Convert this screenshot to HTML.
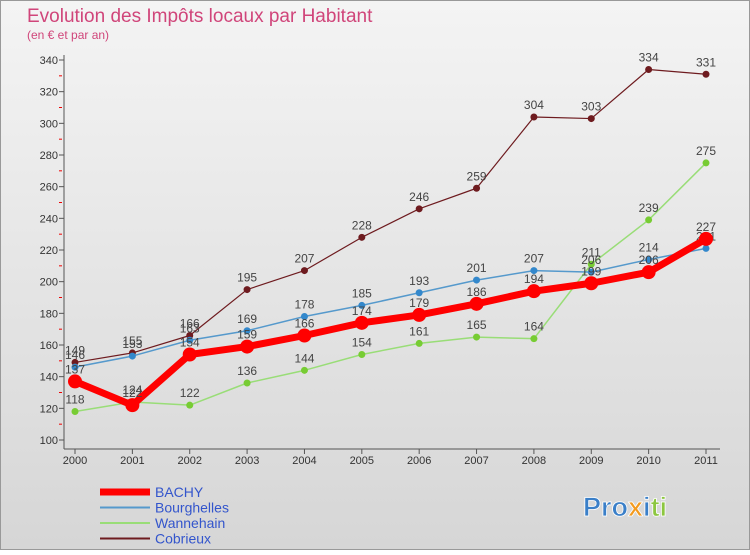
<!DOCTYPE html>
<html><head><meta charset="utf-8"><style>
body{margin:0;width:750px;height:550px;overflow:hidden;font-family:"Liberation Sans",sans-serif}
</style></head><body>
<svg width="750" height="550" xmlns="http://www.w3.org/2000/svg">
<defs><linearGradient id="bg" x1="0" y1="0" x2="0" y2="1"><stop offset="0" stop-color="#f4f4f4"/><stop offset="1" stop-color="#d6d6d6"/></linearGradient></defs>
<rect x="0.5" y="0.5" width="749" height="549" fill="url(#bg)" stroke="#999"/>
<text x="27" y="22" font-size="19" fill="#d0457a">Evolution des Impôts locaux par Habitant</text>
<text x="27" y="39" font-size="12" fill="#d0457a">(en € et par an)</text>
<g id="axes"></g>
<g id="series"></g>
<g id="legend"></g>
<g font-size="27" font-weight="bold" stroke="#fff" stroke-width="0.8">
<text x="583" y="516"><tspan fill="#3a7fc8">Pro</tspan><tspan fill="#f39a1e">x</tspan><tspan fill="#3a7fc8">i</tspan><tspan fill="#8cc63f">ti</tspan></text>
</g>
</svg>
<script>
const years=["2000","2001","2002","2003","2004","2005","2006","2007","2008","2009","2010","2011"];
const yTicks=[100,120,140,160,180,200,220,240,260,280,300,320,340];
const bachy=[137,122,154,159,166,174,179,186,194,199,206,227];
const bourghelles=[146,153,163,169,178,185,193,201,207,206,214,221];
const wannehain=[118,124,122,136,144,154,161,165,164,211,239,275];
const cobrieux=[149,155,166,195,207,228,246,259,304,303,334,331];
const NS="http://www.w3.org/2000/svg";
const X=i=>75+i*(706-75)/11;
const Y=v=>440-(v-100)*(380/240);
function el(t,a,p){const e=document.createElementNS(NS,t);for(const k in a)e.setAttribute(k,a[k]);p.appendChild(e);return e;}
const ax=document.getElementById('axes');
el('line',{x1:64,y1:55,x2:64,y2:449,stroke:'#555'},ax);
el('line',{x1:64,y1:449,x2:720,y2:449,stroke:'#555'},ax);
yTicks.forEach(v=>{
 const t=el('text',{x:58,y:Y(v)+4,'font-size':11,fill:'#333','text-anchor':'end'},ax);t.textContent=v;
 
 
 el('line',{x1:59,y1:Y(v),x2:64,y2:Y(v),stroke:'#555'},ax);
 if(v<340)el('line',{x1:59,y1:Y(v+10),x2:62,y2:Y(v+10),stroke:'#e00'},ax);
});
years.forEach((y,i)=>{
 const t=el('text',{x:X(i),y:464,'font-size':11,fill:'#333','text-anchor':'middle'},ax);t.textContent=y;
 
 
 el('line',{x1:X(i),y1:449,x2:X(i),y2:454,stroke:'#555'},ax);
});
const sg=document.getElementById('series');
const defs=[["cobrieux",cobrieux,"#6e1b1f",1.2,3.5],["wannehain",wannehain,"#99dd77",1.5,3.5],["bourghelles",bourghelles,"#5599cc",1.5,3.5],["bachy",bachy,"#ff0000",7,7]];
defs.forEach(([n,d,c,w,r])=>{
 const g=el('g',{},sg);
 
 
 el('polyline',{points:d.map((v,i)=>X(i)+','+Y(v)).join(' '),fill:'none',stroke:c,'stroke-width':w,'stroke-linejoin':'round'},g);
 const pc=n=="wannehain"?"#77cc33":n=="bourghelles"?"#3388cc":c;
 d.forEach((v,i)=>{
  const p=el('circle',{cx:X(i),cy:Y(v),r:r,fill:pc},g);
  
  
  const t=el('text',{x:X(i),y:Y(v)-8,'font-size':12,fill:'#444','text-anchor':'middle'},g);t.textContent=v;
  
  
 });
});
const lg=document.getElementById('legend');
[["BACHY","#ff0000",7],["Bourghelles","#5599cc",2],["Wannehain","#99dd77",2],["Cobrieux","#6e1b1f",2]].forEach(([n,c,w],i)=>{
 const y=492+i*15.5;
 const g=el('g',{},lg);
 
 
 el('line',{x1:100,y1:y,x2:150,y2:y,stroke:c,'stroke-width':w},g);
 const t=el('text',{x:155,y:y+5,'font-size':14,fill:'#3355cc'},g);t.textContent=n;
});
</script>
</body></html>
